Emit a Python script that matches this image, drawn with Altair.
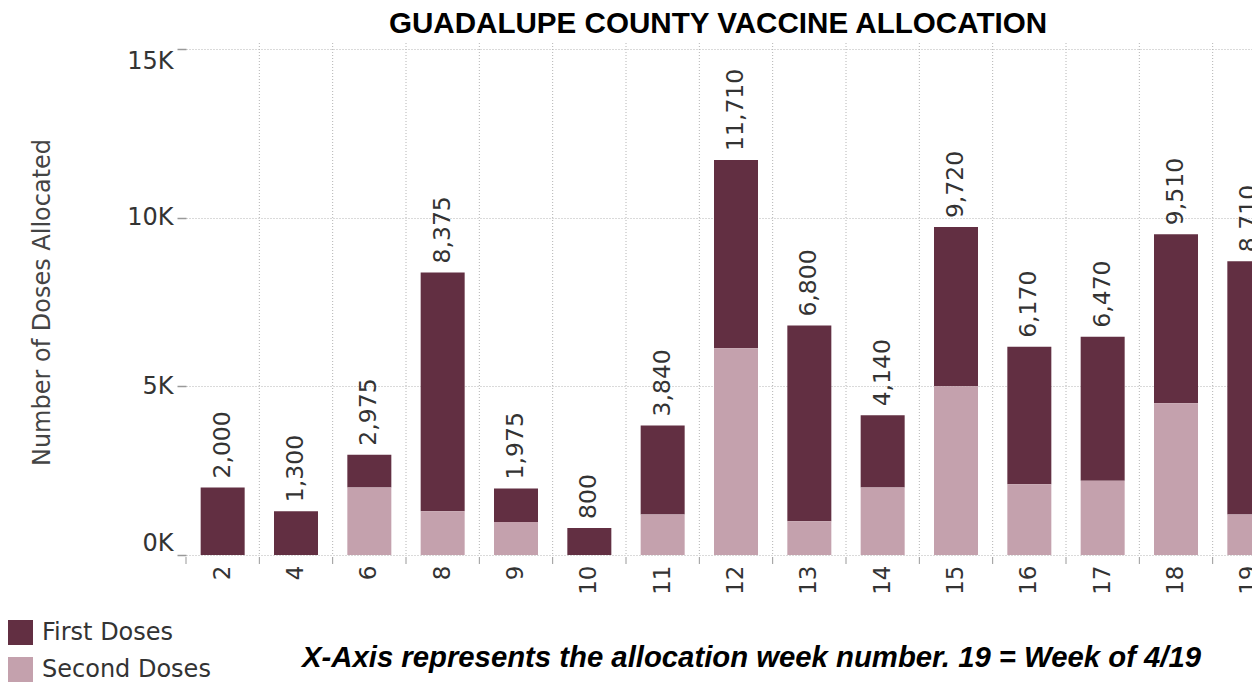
import altair as alt
import pandas as pd

# ---- data ----
weeks = ["2", "4", "6", "8", "9", "10", "11", "12", "13", "14", "15", "16", "17", "18", "19"]
first_doses = [2000, 1300, 975, 7075, 1000, 800, 2640, 5580, 5800, 2140, 4720, 4070, 4270, 5010, 7510]
second_doses = [0, 0, 2000, 1300, 975, 0, 1200, 6130, 1000, 2000, 5000, 2100, 2200, 4500, 1200]
series = ["First Doses", "Second Doses"]
colors = ["#622F42", "#C4A1AD"]
y_ticks = [0, 5000, 10000, 15000]
title_text = "GUADALUPE COUNTY VACCINE ALLOCATION"
footnote_text = "X-Axis represents the allocation week number. 19 = Week of 4/19"

rows = []
for w, f, s in zip(weeks, first_doses, second_doses):
    rows.append({"week": w, "dose": series[0], "value": f})
    rows.append({"week": w, "dose": series[1], "value": s})
df = pd.DataFrame(rows)
wk = pd.DataFrame({"week": weeks})

W = 1066
H = 506
FONT = "DejaVu Sans"

x_scale = alt.Scale(domain=weeks, range=[0, 1100], paddingInner=0, paddingOuter=0)

vgrid = alt.Chart(wk).transform_filter("datum.week != '2'").mark_rule(
    strokeDash=[1, 2], color="#b4b4b4", strokeWidth=1
).encode(
    x=alt.X("week:O", bandPosition=0, scale=x_scale),
    y=alt.value(-6),
    y2=alt.value(H),
)

xticks = alt.Chart(wk).mark_rule(color="#999999", strokeWidth=1).encode(
    x=alt.X("week:O", bandPosition=0, scale=x_scale),
    y=alt.value(H + 2),
    y2=alt.value(H + 9),
)

bars = alt.Chart(df).mark_bar(width=alt.RelativeBandSize(0.6)).encode(
    x=alt.X(
        "week:O",
        scale=x_scale,
        axis=alt.Axis(
            title=None, labelAngle=270, labelPadding=10, ticks=False, domain=False,
            grid=False, labelFont=FONT, labelFontSize=23, labelColor="#333333",
        ),
    ),
    y=alt.Y(
        "value:Q",
        stack="zero",
        scale=alt.Scale(domain=[0, 15000], nice=False),
        axis=alt.Axis(
            values=y_ticks,
            labelExpr="format(datum.value / 1000, 'd') + 'K'",
            title="Number of Doses Allocated",
            titleFont=FONT, titleFontSize=24, titleFontWeight="normal", titleColor="#444444",
            titlePadding=72,
            grid=True, gridDash=[1, 2], gridColor="#b4b4b4",
            domain=False, tickSize=9, tickColor="#999999", tickWidth=1.5,
            labelFlush=True, labelPadding=4, labelFont=FONT, labelFontSize=24,
            labelColor="#333333",
        ),
    ),
    color=alt.Color(
        "dose:N",
        scale=alt.Scale(domain=series, range=colors),
        legend=alt.Legend(
            title=None, orient="none", legendX=-178, legendY=571, direction="vertical",
            symbolType="square", symbolSize=625, symbolStrokeWidth=0,
            labelFont=FONT, labelFontSize=24, labelColor="#333333", labelLimit=400,
            rowPadding=12, labelOffset=9, padding=0,
        ),
    ),
    order=alt.Order("dose:N", sort="descending"),
)

labels = alt.Chart(df).transform_aggregate(
    total="sum(value)", groupby=["week"]
).mark_text(
    angle=270, align="left", baseline="middle", dx=9,
    font=FONT, fontSize=23.5, color="#333333",
).encode(
    x=alt.X("week:O", scale=x_scale),
    y=alt.Y("total:Q"),
    text=alt.Text("total:Q", format=","),
)

title = alt.Chart(pd.DataFrame({"t": [title_text]})).mark_text(
    align="center", baseline="alphabetic", font="Liberation Sans", fontSize=29.6,
    fontWeight="bold", color="black",
).encode(x=alt.value(532), y=alt.value(-16), text="t:N")

foot = alt.Chart(pd.DataFrame({"t": [footnote_text]})).mark_text(
    align="left", baseline="alphabetic", font="Liberation Sans", fontSize=29.3,
    fontStyle="italic", fontWeight="bold", color="black",
).encode(x=alt.value(116), y=alt.value(618), text="t:N")

chart = alt.layer(vgrid, xticks, bars, labels, title, foot).properties(
    width=W,
    height=H,
    autosize=alt.AutoSizeParams(type="none"),
    padding={"left": 178, "top": 41, "right": 0, "bottom": 128},
    background="white",
).configure_view(stroke=None)

chart.save("out.html", embed_options={"renderer": "svg", "actions": False})
